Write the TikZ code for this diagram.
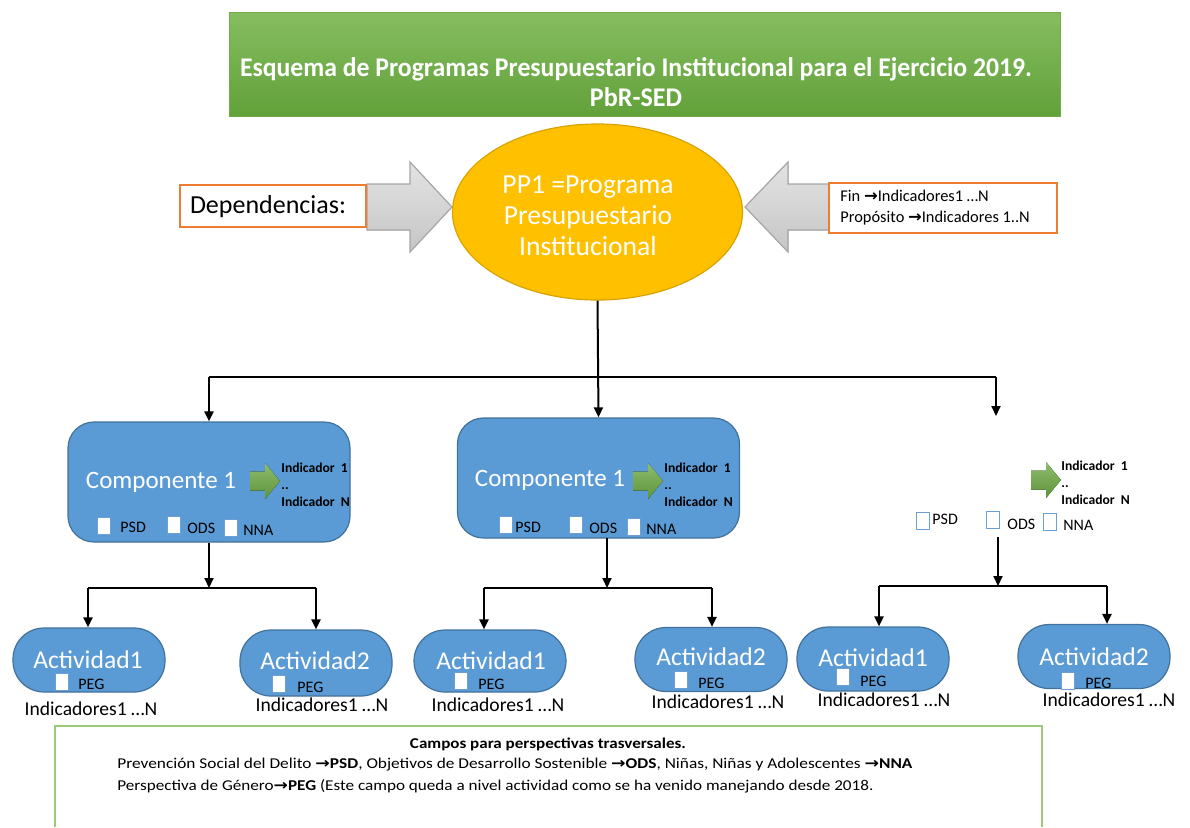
\documentclass[tikz,border=0pt]{standalone}
\usepackage{fontspec}
\usepackage{graphicx}
\setmainfont{Carlito}
\newfontfamily\symf{DejaVu Sans}
\usetikzlibrary{arrows.meta,shapes.geometric,calc}
\definecolor{blu}{HTML}{5B9BD5}
\definecolor{bluD}{HTML}{41719C}
\definecolor{chkB}{HTML}{6C9FD6}
\definecolor{gold}{HTML}{FFC000}
\definecolor{goldD}{HTML}{D9A300}
\definecolor{orng}{HTML}{ED7D31}
\definecolor{grnT}{HTML}{86BD60}
\definecolor{grnB}{HTML}{62A13A}
\definecolor{grnA}{HTML}{70AD47}
\definecolor{grnL}{HTML}{9CCB78}
\definecolor{gryD}{HTML}{A6A6A6}
\newcommand\myarr{{\symf\bfseries →}}
\newcommand\garrow[2]{\fill[garr] (#1,#2-9.5) -- ++(15,0) -- ++(0,-8.5) -- ++(15,18) -- ++(-15,18) -- ++(0,-8.5) -- ++(-15,0) -- cycle;}
\tikzset{
  conn/.style={draw=black, line width=1pt, -{Triangle[length=5pt,width=4.5pt]}},
  plainline/.style={draw=black, line width=1pt},
  compbox/.style={draw=bluD, fill=blu, line width=0.6pt, rounded corners=13pt, minimum width=141pt, minimum height=60pt, inner sep=0pt},
  actbox/.style={draw=bluD, fill=blu, line width=0.6pt, rounded corners=15.5pt, minimum width=76pt, minimum height=32pt, inner sep=0pt},
  chk/.style={fill=white, draw=chkB, line width=0.4pt, minimum width=6.5pt, minimum height=8.5pt, inner sep=0pt},
  lbl/.style={font=\fontsize{8pt}{9pt}\selectfont, anchor=west, inner sep=0pt},
  wbig/.style={text=white, font=\fontsize{12.5pt}{14pt}\selectfont, inner sep=0pt},
  indtxt/.style={font=\bfseries\fontsize{6.8pt}{8.4pt}\selectfont, anchor=west, align=left, inner sep=0pt},
  indic/.style={font=\fontsize{9.8pt}{11pt}\selectfont, inner sep=0pt},
  garr/.style={top color=grnA!80!white, bottom color=grnA!85!black, draw=none},
  grayarr/.style={top color=gray!22, bottom color=gray!45, draw=gryD, line width=0.6pt},
  obox/.style={draw=orng, fill=white, line width=0.7pt, inner sep=0pt}
}
\begin{document}
\begin{tikzpicture}[x=0.5pt,y=-0.5pt]
\useasboundingbox (0,0) rectangle (1190,827);
% title
\node[draw=grnA, line width=0.5pt, top color=grnT, bottom color=grnB, minimum width=415.5pt, minimum height=52pt, inner sep=0pt] (title) at (644.5,64) {};
\node[text=white, font=\bfseries\fontsize{13.5pt}{15pt}\selectfont, align=center, inner sep=0pt] (titletxt) at (636,82)
  {\resizebox{396pt}{\height}{Esquema de Programas Presupuestario Institucional para el Ejercicio 2019.}\\\resizebox{46pt}{\height}{PbR-SED}};
% gray arrows
\filldraw[grayarr] (367,184) -- (410,184) -- (410,162) -- (452,207) -- (410,252) -- (410,230) -- (367,230) -- cycle;
\filldraw[grayarr] (840,184) -- (788,184) -- (788,162) -- (745,207) -- (788,252) -- (788,230) -- (840,230) -- cycle;
% dependencias
\node[obox, minimum width=93pt, minimum height=21pt] (dep) at (273,206) {};
\node[font=\fontsize{13pt}{15pt}\selectfont, inner sep=0pt] (deptxt) at (268,207) {Dependencias:};
% fin box
\node[obox, minimum width=114pt, minimum height=25pt] (fin) at (943,208) {};
\node[font=\fontsize{8.2pt}{10.5pt}\selectfont, align=left, anchor=west, inner sep=0pt] (fintxt) at (840,208)
  {Fin \myarr Indicadores1 …N\\Propósito \myarr Indicadores 1..N};
% ellipse
\node[ellipse, draw=goldD, fill=gold, line width=0.6pt, minimum width=145pt, minimum height=88pt, inner sep=0pt] (ell) at (597.5,212) {};
\node[text=white, font=\fontsize{13.8pt}{15.5pt}\selectfont, align=center, inner sep=0pt] (elltxt) at (588,216)
  {PP1 =Programa\\Presupuestario\\Institucional};
% components
\node[compbox] (comp1) at (209,482) {};
\node[compbox] (comp2) at (598.5,478) {};
\node[wbig] (c1txt) at (161,482) {Componente 1};
\node[wbig] (c2txt) at (550,480) {Componente 1};
\garrow{250}{481}
\garrow{633}{481}
\garrow{1031}{480}
\node[indtxt] (ind1) at (281,485) {Indicador~~1\\..\\Indicador~~N};
\node[indtxt] (ind2) at (664,485) {Indicador~~1\\..\\Indicador~~N};
\node[indtxt] (ind3) at (1061,483) {Indicador~~1\\..\\Indicador~~N};
% checkboxes comp1
\node[chk] (k11) at (103.5,526) {}; \node[lbl] (l11) at (120,527) {PSD};
\node[chk] (k12) at (173.5,525) {}; \node[lbl] (l12) at (187,528) {ODS};
\node[chk] (k13) at (231,528) {};   \node[lbl] (l13) at (243,530) {NNA};
% comp2
\node[chk] (k21) at (505.5,525) {}; \node[lbl] (l21) at (515,527) {PSD};
\node[chk] (k22) at (575.5,525) {}; \node[lbl] (l22) at (589,528) {ODS};
\node[chk] (k23) at (633.5,527) {}; \node[lbl] (l23) at (646,529) {NNA};
% third
\node[chk] (k31) at (923,521) {};    \node[lbl] (l31) at (932,519) {PSD};
\node[chk] (k32) at (992.5,520) {};  \node[lbl] (l32) at (1007,524) {ODS};
\node[chk] (k33) at (1049.5,522) {}; \node[lbl] (l33) at (1063,525) {NNA};
% activities
\node[actbox] (a11) at (89,660) {};
\node[actbox, minimum height=33pt] (a12) at (316,663) {};
\node[actbox, minimum height=31pt] (a21) at (490,661) {};
\node[actbox] (a22) at (711,659.5) {};
\node[actbox] (a31) at (873,659) {};
\node[actbox] (a32) at (1094,656.5) {};
\node[wbig, font=\fontsize{12.8pt}{14pt}\selectfont] (t11) at (88,660) {Actividad1};
\node[wbig, font=\fontsize{12.8pt}{14pt}\selectfont] (t12) at (315,661) {Actividad2};
\node[wbig, font=\fontsize{12.8pt}{14pt}\selectfont] (t21) at (491,661) {Actividad1};
\node[wbig, font=\fontsize{12.8pt}{14pt}\selectfont] (t22) at (711,657) {Actividad2};
\node[wbig, font=\fontsize{12.8pt}{14pt}\selectfont] (t31) at (873,658) {Actividad1};
\node[wbig, font=\fontsize{12.8pt}{14pt}\selectfont] (t32) at (1094,657) {Actividad2};
\node[chk] (p11) at (61.5,682) {};  \node[lbl] (q11) at (78,684) {PEG};
\node[chk] (p12) at (279,684) {};   \node[lbl] (q12) at (297,687) {PEG};
\node[chk] (p21) at (461,681) {};   \node[lbl] (q21) at (478,684) {PEG};
\node[chk] (p22) at (681,680) {};   \node[lbl] (q22) at (698,683) {PEG};
\node[chk] (p31) at (843,677) {};   \node[lbl] (q31) at (860,681) {PEG};
\node[chk] (p32) at (1067.5,680.5) {}; \node[lbl] (q32) at (1085,683) {PEG};
\node[indic] (i11) at (91,709) {Indicadores1 …N};
\node[indic] (i12) at (322,705) {Indicadores1 …N};
\node[indic] (i21) at (498,705) {Indicadores1 …N};
\node[indic] (i22) at (718,702) {Indicadores1 …N};
\node[indic] (i31) at (884,700) {Indicadores1 …N};
\node[indic] (i32) at (1109,700) {Indicadores1 …N};
% top connectors
\coordinate (hl) at (209,377);
\coordinate (hr) at (996,377);
\coordinate (fr) at (996,416);
\draw[conn] (ell.south) -- (comp2.north);
\draw[plainline] (hl) -- (hr);
\draw[conn] (hl) -- (comp1.north);
\draw[conn] (hr) -- (fr);
% group 1
\coordinate (g1) at (209,588);
\coordinate (g1l) at (88,588);
\coordinate (g1r) at (316,588);
\draw[conn] (comp1.south) -- (g1);
\draw[plainline] (g1l) -- (g1r);
\draw[conn] (g1l) -- (g1l |- a11.north);
\draw[conn] (g1r) -- (g1r |- a12.north);
% group 2
\coordinate (g2t) at (607,538);
\coordinate (g2) at (607,588);
\coordinate (g2l) at (484,588);
\coordinate (g2r) at (712,588);
\draw[conn] (g2t) -- (g2);
\draw[plainline] (g2l) -- (g2r);
\draw[conn] (g2l) -- (g2l |- a21.north);
\draw[conn] (g2r) -- (g2r |- a22.north);
% group 3
\coordinate (g3t) at (998,537);
\coordinate (g3) at (998,586);
\coordinate (g3l) at (879,586);
\coordinate (g3r) at (1107,586);
\draw[conn] (g3t) -- (g3);
\draw[plainline] (g3l) -- (g3r);
\draw[conn] (g3l) -- (g3l |- a31.north);
\draw[conn] (g3r) -- (g3r |- a32.north);
% bottom box
\draw[draw=grnL, line width=0.7pt] (55,827) -- (55,726) -- (1042,726) -- (1042,827);
\node[font=\bfseries\fontsize{7.5pt}{9pt}\selectfont, inner sep=0pt] (btitle) at (548,744) {\resizebox{138pt}{\height}{Campos para perspectivas trasversales.}};
\node[font=\fontsize{7.5pt}{9pt}\selectfont, anchor=west, inner sep=0pt] (bl1) at (117,765)
  {\resizebox{397.5pt}{\height}{Prevención Social del Delito \myarr\textbf{PSD}, Objetivos de Desarrollo Sostenible \myarr\textbf{ODS}, Niñas, Niñas y Adolescentes \myarr\textbf{NNA}}};
\node[font=\fontsize{7.5pt}{9pt}\selectfont, anchor=west, inner sep=0pt] (bl2) at (117,786)
  {\resizebox{378pt}{\height}{Perspectiva de Género\myarr\textbf{PEG} (Este campo queda  a nivel actividad como se ha venido manejando desde  2018.}};
\end{tikzpicture}
\end{document}
